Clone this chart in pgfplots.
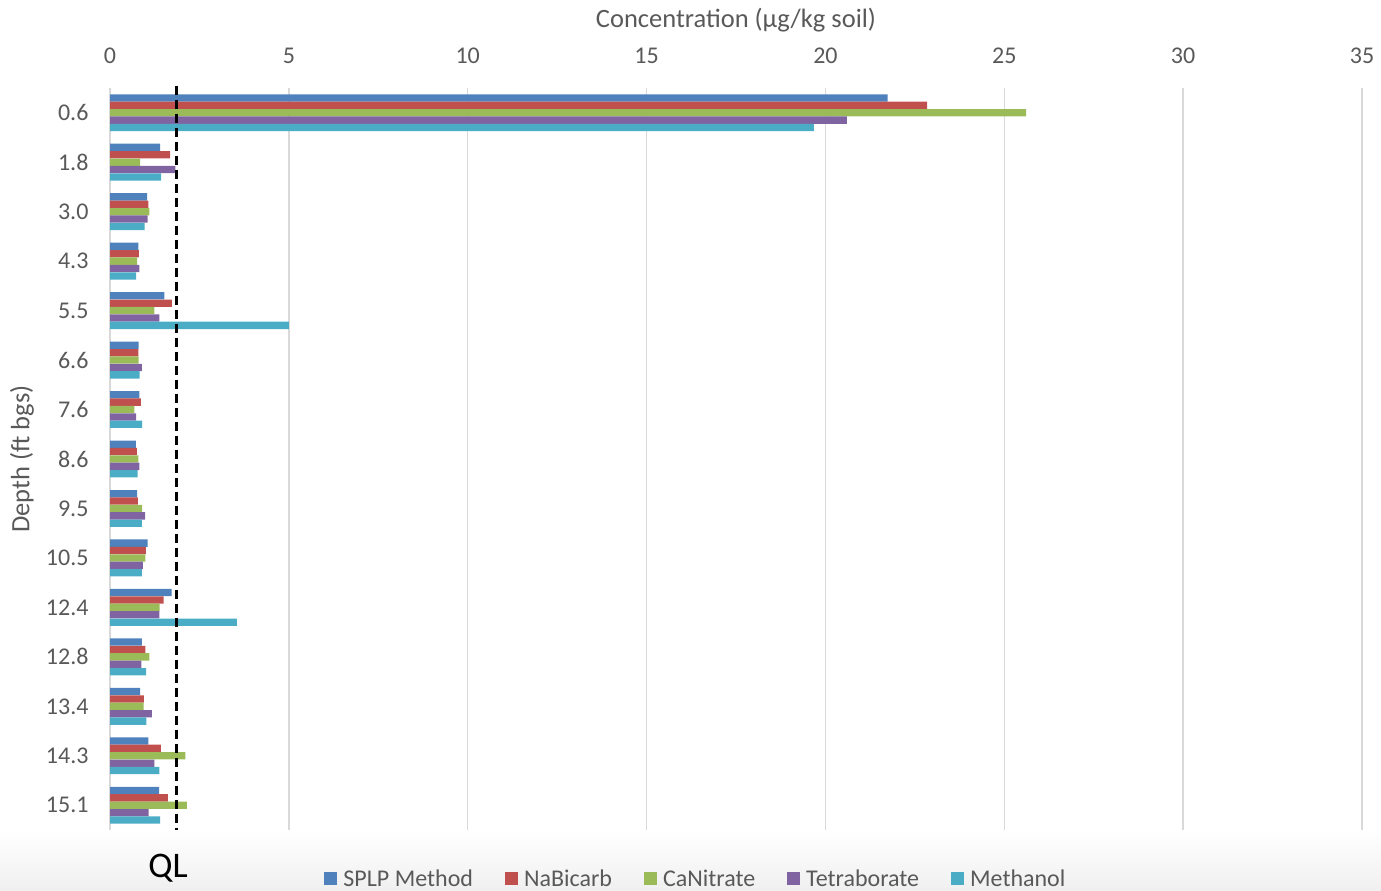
\documentclass[border=0pt]{standalone}
\usepackage{pgfplots}
\usepackage{pgfplotstable}
\pgfplotsset{compat=1.18}
\usepackage{fontspec}
\setmainfont{Carlito}
\definecolor{c1}{HTML}{4F81BD}
\definecolor{c2}{HTML}{C0504D}
\definecolor{c3}{HTML}{9BBB59}
\definecolor{c4}{HTML}{8064A2}
\definecolor{c5}{HTML}{4BACC6}
\definecolor{txt}{HTML}{595959}
\definecolor{gridc}{HTML}{D9D9D9}
% idx 14 = depth 0.6 (top) ... idx 0 = depth 15.1 (bottom)
\pgfplotstableread{
idx splp na ca tetra meth
14 21.74 22.84 25.61 20.60 19.68
13 1.40 1.68 0.84 1.83 1.43
12 1.04 1.07 1.10 1.05 0.97
11 0.79 0.81 0.76 0.82 0.73
10 1.52 1.73 1.24 1.38 5.00
9 0.80 0.79 0.80 0.89 0.83
8 0.82 0.86 0.68 0.73 0.90
7 0.72 0.75 0.79 0.82 0.77
6 0.76 0.78 0.90 0.98 0.89
5 1.05 1.00 0.99 0.92 0.89
4 1.72 1.50 1.39 1.38 3.55
3 0.89 0.99 1.10 0.88 1.01
2 0.84 0.95 0.94 1.17 1.02
1 1.07 1.42 2.11 1.24 1.38
0 1.37 1.62 2.15 1.08 1.40
}\datatable
\begin{document}
\begin{tikzpicture}[x=1pt,y=1pt]
\path[use as bounding box] (0,0) rectangle (1381,891);
\shade[top color=white,bottom color=black!6] (0,0) rectangle (1381,60);
\begin{axis}[
 at={(110pt,61pt)}, anchor=south west,
 scale only axis, width=1252pt, height=742pt,
 clip=false,
 xbar, bar width=7.3pt,
 xmin=0, xmax=35, ymin=-0.5, ymax=14.5,
 xtick={0,5,...,35}, ytick={0,...,14},
 yticklabels={15.1,14.3,13.4,12.8,12.4,10.5,9.5,8.6,7.6,6.6,5.5,4.3,3.0,1.8,0.6},
 axis x line*=top, axis y line*=left,
 x axis line style={draw=none},
 y axis line style={draw=gridc, line width=1.5pt},
 major tick length=0pt,
 xmajorgrids, major grid style={draw=gridc, line width=1.5pt},
 /pgf/number format/assume math mode=true,
 tick label style={font=\fontsize{24}{28}\selectfont, text=txt},
 xticklabel style={yshift=21pt},
 yticklabel style={xshift=-18pt},
 xlabel={Concentration (µg/kg soil)},
 ylabel={Depth (ft bgs)},
 label style={font=\fontsize{26.5}{30}\selectfont, text=txt},
 xlabel style={at={(axis description cs:0.5,1)}, anchor=center, yshift=68pt},
 ylabel style={at={(axis description cs:0,0.5)}, anchor=center, yshift=88pt},
 legend style={at={(0.468,-0.066)}, anchor=center, legend columns=5, draw=none, fill=none,
   font=\fontsize{24}{28}\selectfont, text=txt,
   /tikz/every odd column/.append style={column sep=4pt},
   /tikz/every even column/.append style={column sep=30pt}},
 legend image code/.code={\fill[#1,draw=none] (0pt,-6.5pt) rectangle (13pt,6.5pt);},
]
\addplot[fill=c1, draw=none, bar shift=14.8pt] table[x=splp, y=idx] {\datatable};
\addplot[fill=c2, draw=none, bar shift=7.4pt] table[x=na, y=idx] {\datatable};
\addplot[fill=c3, draw=none, bar shift=0pt] table[x=ca, y=idx] {\datatable};
\addplot[fill=c4, draw=none, bar shift=-7.4pt] table[x=tetra, y=idx] {\datatable};
\addplot[fill=c5, draw=none, bar shift=-14.8pt] table[x=meth, y=idx] {\datatable};
\legend{SPLP Method,NaBicarb,CaNitrate,Tetraborate,Methanol}
\addplot[sharp plot, forget plot, black, line width=2.2pt, dash pattern=on 9pt off 5pt] coordinates {(1.86,14.55) (1.86,-0.5)};
\node[font=\fontsize{36}{40}\selectfont, text=black] at (axis description cs:0.0463,-0.051) {QL};
\end{axis}
\end{tikzpicture}
\end{document}
